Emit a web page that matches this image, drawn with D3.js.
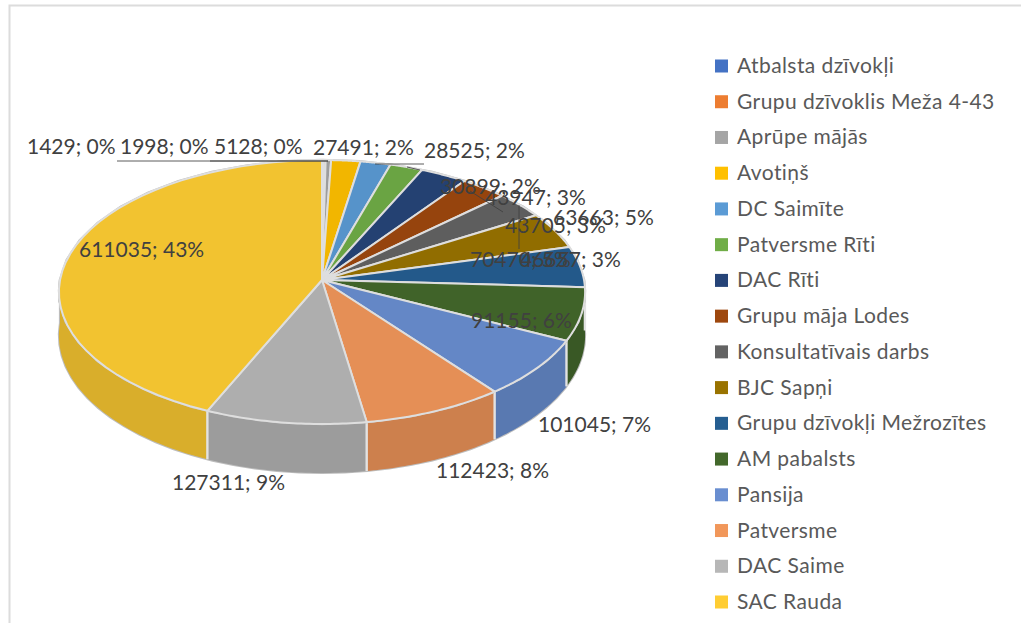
<!DOCTYPE html>
<html><head><meta charset="utf-8">
<script src="https://cdnjs.cloudflare.com/ajax/libs/d3/7.8.5/d3.min.js"></script>
<style>html,body{margin:0;padding:0;background:#fff}svg{display:block}</style>
</head><body><div id="c"></div>
<script>
const categories=["Atbalsta dzīvokļi","Grupu dzīvoklis Meža 4-43","Aprūpe mājās","Avotiņš","DC Saimīte","Patversme Rīti","DAC Rīti","Grupu māja Lodes","Konsultatīvais darbs","BJC Sapņi","Grupu dzīvokļi Mežrozītes","AM pabalsts","Pansija","Patversme","DAC Saime","SAC Rauda"];
const values=[1429,1998,5128,27491,28525,30899,43947,43705,46657,63663,70470,91155,101045,112423,127311,611035];
const percents=[0,0,0,2,2,2,3,3,3,5,5,6,7,8,9,43];
const colors=["#4472c4","#ed7d31","#a5a5a5","#ffc000","#5b9bd5","#70ad47","#264478","#9e480e","#636363","#997300","#255e91","#43682b","#698ed0","#f1975a","#b7b7b7","#ffcd33"];
const labelSpots=[[27,154],[120,154],[214,154],[313,155],[424,158],[440,194],[485,205],[505,233],[520,267],[553,225],[470,267],[471,328],[538,432],[436,478],[172,490],[79,257]];
const leaders=[[[117,161],[328,161]],[[210,161],[328,161]],[[375,164],[424,164]],[[407,167],[420,170]],[[470,191],[503,212]],[[519,205],[519,249]]];

const W=1022,H=623;
const svg=d3.select("#c").append("svg").attr("width",W).attr("height",H);
svg.append("path").attr("d",`M9.5,${H}V5.5H1021`).attr("fill","none").attr("stroke","#dcdcdc").attr("stroke-width",2);

const cx=322,cy=280,R=262,B=130.9,K=0.0909;
const project=(a,depth)=>{const X=Math.sin(a),Y=-Math.cos(a),p=1/(1-K*Y);
  const d=depth?43+6*Y:0;return [cx+R*X*p,cy+B*Y*p+d];};
const pie=d3.pie().sort(null).value(d=>d)(values);
const line=d3.line();
const samples=(a0,a1)=>d3.range(0,41).map(i=>a0+(a1-a0)*i/40);
const shade=(c,f)=>{const q=d3.rgb(c);return d3.rgb(q.r*f,q.g*f,q.b*f).formatHex();};

const wallFrom=Math.PI/2,wallTo=Math.PI*1.5;
const walls=pie.map((s,i)=>({a0:Math.max(s.startAngle,wallFrom),a1:Math.min(s.endAngle,wallTo),i}))
  .filter(w=>w.a1>w.a0);
const wallPath=w=>{const t=samples(w.a0,w.a1);
  return line(t.map(a=>project(a,false)).concat(t.slice().reverse().map(a=>project(a,true))))+"Z";};

// silhouette of the walls
svg.append("path").attr("d",wallPath({a0:wallFrom,a1:wallTo}))
  .attr("fill","#bdbdbd").attr("stroke","#bdbdbd").attr("stroke-width",2.2);
svg.append("g").selectAll("path").data(walls).join("path")
  .attr("d",wallPath)
  .attr("fill",w=>shade(colors[w.i],0.85));
// wall separators
svg.append("g").selectAll("path").data(walls.slice(1)).join("path")
  .attr("d",w=>line([project(w.a0,false),project(w.a0,true)]))
  .attr("stroke","#e2e2e2").attr("stroke-width",2.4).attr("fill","none");

// top face
svg.append("path").attr("d",line(samples(0,2*Math.PI).concat(samples(0,0)).map(a=>project(a,false))))
  .attr("fill","#ddd").attr("stroke","#bcbcbc").attr("stroke-width",2.6);
svg.append("g").selectAll("path").data(pie).join("path")
  .attr("d",s=>line([[cx,cy]].concat(samples(s.startAngle,s.endAngle).map(a=>project(a,false))))+"Z")
  .attr("fill",(s,i)=>shade(colors[i],0.95))
  .attr("stroke","#dedede").attr("stroke-width",2).attr("stroke-linejoin","round");

// leader lines
svg.append("g").selectAll("path").data(leaders).join("path")
  .attr("d",d=>line(d)).attr("fill","none").attr("stroke","#404040").attr("stroke-opacity",.85).attr("stroke-width",1);

// data labels
svg.append("g").selectAll("text").data(values).join("text")
  .attr("x",(v,i)=>labelSpots[i][0]).attr("y",(v,i)=>labelSpots[i][1])
  .attr("font-family","Lato").attr("font-size",21).attr("fill","#404040")
  .text((v,i)=>`${v}; ${percents[i]}%`);

// legend
const ly=d3.scalePoint().domain(categories).range([66,602]);
const lg=svg.append("g").selectAll("g").data(categories).join("g");
lg.append("rect").attr("x",715).attr("y",d=>ly(d)-6.5).attr("width",13).attr("height",13)
  .attr("fill",(d,i)=>colors[i]);
lg.append("text").attr("x",737).attr("y",d=>ly(d)+7)
  .attr("font-family","Lato").attr("font-size",21).attr("letter-spacing",0.42).attr("fill","#595959").text(d=>d);
</script></body></html>
